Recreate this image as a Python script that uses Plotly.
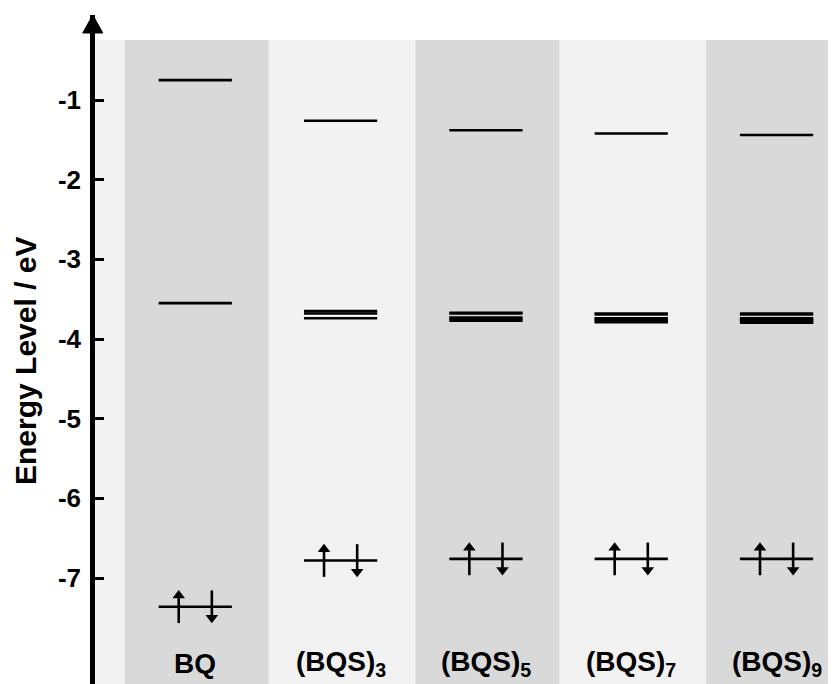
import plotly.graph_objects as go

# ---- data ----
species = ["BQ", "(BQS)<sub>3</sub>", "(BQS)<sub>5</sub>", "(BQS)<sub>7</sub>", "(BQS)<sub>9</sub>"]
upper_levels = [-0.75, -1.26, -1.38, -1.42, -1.44]
lumo_levels = [
    [-3.55],
    [-3.65, -3.68, -3.74],
    [-3.67, -3.68, -3.73, -3.75, -3.77],
    [-3.68, -3.69, -3.74, -3.75, -3.765, -3.78, -3.79],
    [-3.68, -3.69, -3.74, -3.745, -3.755, -3.765, -3.775, -3.785, -3.795],
]
homo_levels = [-7.36, -6.78, -6.76, -6.76, -6.76]
ytick_vals = [-1, -2, -3, -4, -5, -6, -7]
ytick_text = ["-1", "-2", "-3", "-4", "-5", "-6", "-7"]

# ---- style ----
HALF = 0.252      # half width of a level line (x units)
ARR_DX = 0.114    # arrow offset from column centre
ARR_DY = 0.205    # arrow half length (eV)
HEAD = 0.065      # arrow head centre offset from tip (eV)
LIGHT = "#f2f2f2"
DARK = "#d9d9d9"
XR = [-0.690, 4.409]
YR = [-8.330, 0.067]
BAND_TOP = -0.247

fig = go.Figure()

for i, name in enumerate(species):
    xs, ys = [], []
    for e in [upper_levels[i]] + lumo_levels[i] + [homo_levels[i]]:
        xs += [i - HALF, i + HALF, None]
        ys += [e, e, None]
    fig.add_trace(go.Scatter(x=xs, y=ys, mode="lines",
                             line=dict(color="black", width=2.6),
                             showlegend=False, hoverinfo="skip"))

# spin arrows on the HOMO levels
shaft_x, shaft_y, up_x, up_y, dn_x, dn_y = [], [], [], [], [], []
for i, h in enumerate(homo_levels):
    shaft_x += [i - ARR_DX, i - ARR_DX, None, i + ARR_DX, i + ARR_DX, None]
    shaft_y += [h - ARR_DY, h + ARR_DY - 0.04, None, h + ARR_DY, h - ARR_DY + 0.04, None]
    up_x.append(i - ARR_DX)
    up_y.append(h + ARR_DY - HEAD)
    dn_x.append(i + ARR_DX)
    dn_y.append(h - ARR_DY + HEAD)
fig.add_trace(go.Scatter(x=shaft_x, y=shaft_y, mode="lines",
                         line=dict(color="black", width=2.6),
                         showlegend=False, hoverinfo="skip"))
fig.add_trace(go.Scatter(x=up_x, y=up_y, mode="markers",
                         marker=dict(symbol="triangle-up", size=11, color="black",
                                     line=dict(width=0)),
                         showlegend=False, hoverinfo="skip"))
fig.add_trace(go.Scatter(x=dn_x, y=dn_y, mode="markers",
                         marker=dict(symbol="triangle-down", size=11, color="black",
                                     line=dict(width=0)),
                         showlegend=False, hoverinfo="skip"))

shapes = [dict(type="rect", xref="x", yref="y", x0=XR[0], x1=XR[1],
               y0=YR[0], y1=BAND_TOP, fillcolor=LIGHT, line_width=0, layer="below")]
for i in range(0, len(species), 2):
    shapes.append(dict(type="rect", xref="x", yref="y", x0=i - 0.485, x1=i + 0.505,
                       y0=YR[0], y1=BAND_TOP, fillcolor=DARK, line_width=0, layer="below"))
# axis arrow head
shapes.append(dict(type="path", xref="paper", yref="paper",
                   path="M -0.0165 0.9731 L 0.0105 0.9731 L -0.0030 1.0 Z",
                   fillcolor="black", line=dict(color="black", width=1)))

annotations = []
for i, name in enumerate(species):
    annotations.append(dict(x=i, y=-8.07, xref="x", yref="y", text="<b>" + name + "</b>",
                            showarrow=False, yanchor="middle", xanchor="center",
                            font=dict(family="Arial, Liberation Sans", size=28, color="black")))

annotations.append(dict(x=-0.093, y=0.483, xref="paper", yref="paper",
                        text="<b>Energy Level / eV</b>", textangle=-90, showarrow=False,
                        xanchor="center", yanchor="middle",
                        font=dict(family="Arial, Liberation Sans", size=30, color="black")))

# the page body adds an 8 px offset, so the figure is 8 px smaller and margins shifted
fig.update_layout(
    width=828, height=676,
    margin=dict(l=87, r=0, t=7, b=0),
    paper_bgcolor="white", plot_bgcolor="white",
    shapes=shapes, annotations=annotations,
    xaxis=dict(range=XR, visible=False, fixedrange=True),
    yaxis=dict(range=YR, showgrid=False, zeroline=False, showline=True,
               linecolor="black", linewidth=4.5, ticks="inside", ticklen=9,
               tickwidth=3, tickcolor="black", tickvals=ytick_vals, ticktext=ytick_text,
               tickfont=dict(family="Arial, Liberation Sans", size=26, color="black",
                             weight="bold"),
               ticklabelstandoff=4, automargin=False),
)

fig.write_html("out.html")
